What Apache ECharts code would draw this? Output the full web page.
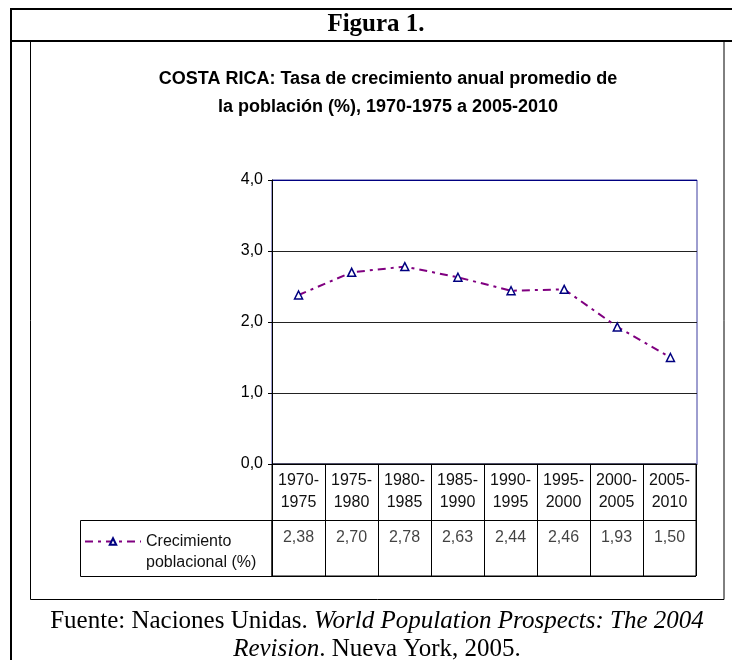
<!DOCTYPE html>
<html>
<head>
<meta charset="utf-8">
<script src="https://cdn.jsdelivr.net/npm/echarts@6/dist/echarts.min.js"></script>
<style>html,body{margin:0;padding:0;background:#fff}#main{width:732px;height:660px}</style>
</head>
<body>
<div id="main"></div>
<script>
// datos (Naciones Unidas, WPP 2004)
var periodos = ['1970-1975', '1975-1980', '1980-1985', '1985-1990', '1990-1995', '1995-2000', '2000-2005', '2005-2010'];
var crecimiento = [2.38, 2.70, 2.78, 2.63, 2.44, 2.46, 1.93, 1.50];
var serieNombre = 'Crecimiento poblacional (%)';
var tituloFigura = 'Figura 1.';
var tituloGrafico = 'COSTA RICA: Tasa de crecimiento anual promedio de\nla población (%), 1970-1975 a 2005-2010';

var coma = function (v, d) { return v.toFixed(d).replace('.', ','); };
var sans = 'Liberation Sans, Arial, sans-serif';
var serif = 'Liberation Serif, Times New Roman, serif';

var chart = echarts.init(document.getElementById('main'), null, { renderer: 'canvas' });

var option = {
  animation: false,
  backgroundColor: '#fff',
  grid: [
    { left: 272, top: 180, width: 425, height: 284, show: true, borderColor: '#3c3ca0', borderWidth: 1 },
    { left: 272, top: 464, width: 424, height: 112, show: true, borderColor: '#000', borderWidth: 1 }
  ],
  xAxis: [
    {
      gridIndex: 0, type: 'category', data: periodos, boundaryGap: true,
      axisLine: { lineStyle: { color: '#000', width: 1 } },
      axisTick: { show: false }, axisLabel: { show: false }, splitLine: { show: false }
    },
    {
      gridIndex: 1, type: 'category', data: periodos, boundaryGap: true, position: 'top',
      axisLine: { show: false }, axisTick: { show: false },
      axisLabel: {
        interval: 0, inside: true, margin: 6, color: '#111',
        fontFamily: sans, fontSize: 16, lineHeight: 22,
        formatter: function (v) { return v.replace('-', '-\n'); }
      },
      splitLine: { show: true, interval: 0, lineStyle: { color: '#000', width: 1 } }
    }
  ],
  yAxis: [
    {
      gridIndex: 0, type: 'value', min: 0, max: 4, interval: 1,
      axisLine: { show: true, lineStyle: { color: '#000', width: 1 } },
      axisTick: { show: true, length: 4, lineStyle: { color: '#000' } },
      axisLabel: { color: '#000', fontFamily: sans, fontSize: 16, margin: 9,
        formatter: function (v) { return coma(v, 1); } },
      splitLine: { show: true, lineStyle: { color: ['#000', '#222', '#222', '#222', '#000080'], width: 1 } }
    },
    {
      gridIndex: 1, type: 'value', min: 0, max: 2, interval: 1,
      axisLine: { show: false }, axisTick: { show: false }, axisLabel: { show: false },
      splitLine: { show: true, lineStyle: { color: '#000', width: 1 } }
    }
  ],
  legend: {
    left: 84, top: 510, padding: 0,
    itemWidth: 56, itemHeight: 8, itemGap: 0,
    data: [serieNombre],
    // linea vacia arriba para que el icono quede junto a la primera linea
    formatter: function () { return '\nCrecimiento\npoblacional (%)'; },
    textStyle: { color: '#111', fontFamily: sans, fontSize: 16, lineHeight: 21 }
  },
  series: [
    {
      name: serieNombre, type: 'line', xAxisIndex: 0, yAxisIndex: 0,
      data: crecimiento,
      symbol: 'triangle', symbolSize: 8,
      lineStyle: { color: '#800080', width: 2, type: [8, 5, 3, 5] },
      itemStyle: { color: '#fff', borderColor: '#000080', borderWidth: 1.5 }
    },
    {
      // fila de valores en la tabla
      type: 'scatter', xAxisIndex: 1, yAxisIndex: 1, symbolSize: 0, silent: true,
      data: crecimiento.map(function (v, i) { return [i, 0.68]; }),
      label: {
        show: true, position: 'inside', color: '#111', fontFamily: sans, fontSize: 16,
        formatter: function (p) { return coma(crecimiento[p.dataIndex], 2); }
      }
    }
  ],
  graphic: [
    // marco exterior
    { type: 'polyline', shape: { points: [[732, 9], [11, 9], [11, 660]] }, style: { stroke: '#000', lineWidth: 2, fill: null } },
    { type: 'line', shape: { x1: 11, y1: 41, x2: 732, y2: 41 }, style: { stroke: '#000', lineWidth: 2 } },
    // marco del grafico
    { type: 'rect', shape: { x: 30.5, y: 41, width: 693.5, height: 558.5 }, style: { stroke: '#000', lineWidth: 1, fill: null } },
    // celda de la leyenda
    { type: 'rect', shape: { x: 80.5, y: 520.5, width: 191.5, height: 56 }, style: { stroke: '#000', lineWidth: 1, fill: null } },
    {
      type: 'text', x: 376, y: 25,
      style: { text: tituloFigura, fontFamily: serif, fontWeight: 'bold', fontSize: 25, fill: '#000', align: 'center', verticalAlign: 'middle' }
    },
    {
      type: 'text', x: 388, y: 65,
      style: { text: tituloGrafico, fontFamily: sans, fontWeight: 'bold', fontSize: 18, lineHeight: 28, fill: '#000', align: 'center', verticalAlign: 'top' }
    },
    {
      type: 'text', x: 377, y: 607,
      style: {
        text: 'Fuente: Naciones Unidas. {i|World Population Prospects: The 2004}\n{i|Revision}. Nueva York, 2005.',
        fontFamily: serif, fontSize: 25, lineHeight: 28, fill: '#000', align: 'center', verticalAlign: 'top',
        rich: { i: { fontFamily: serif, fontSize: 25, fontStyle: 'italic', fill: '#000' } }
      }
    }
  ]
};

chart.setOption(option);
</script>
</body>
</html>
